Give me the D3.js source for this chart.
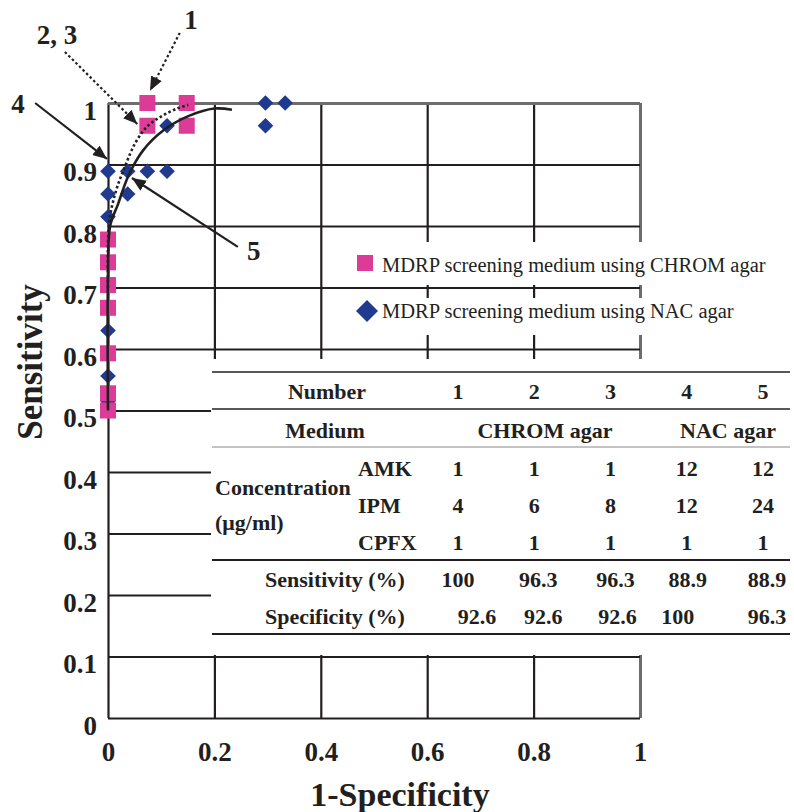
<!DOCTYPE html>
<html>
<head>
<meta charset="utf-8">
<script src="https://cdn.jsdelivr.net/npm/d3@7"></script>
<style>
  body { margin: 0; background: #fff; }
  svg { display: block; font-family: "Liberation Serif", "Times New Roman", serif; }
</style>
</head>
<body>
<svg id="canvas" width="794" height="812"></svg>
<script>
// CHROM agar (pink squares)
const chromX = [0.074, 0.074, 0.148, 0.148, 0, 0, 0, 0, 0, 0, 0];
const chromY = [1, 0.963, 1, 0.963, 0.778, 0.741, 0.704, 0.667, 0.593, 0.528, 0.5];
// NAC agar (blue diamonds)
const nacX = [0.296, 0.333, 0.296, 0.111, 0, 0.037, 0.074, 0.111, 0, 0.037, 0, 0, 0, 0];
const nacY = [1, 1, 0.963, 0.963, 0.889, 0.889, 0.889, 0.889, 0.852, 0.852, 0.815, 0.63, 0.556, 0.515];

// fitted curves
const solidCurve = [[0, 0.5], [0, 0.72], [0.004, 0.8], [0.019, 0.836], [0.039, 0.883], [0.066, 0.923],
  [0.105, 0.956], [0.152, 0.979], [0.2, 0.991], [0.233, 0.989]];
const dottedCurve = [[0, 0.7], [0.002, 0.805], [0.015, 0.857], [0.032, 0.897], [0.052, 0.936],
  [0.075, 0.963], [0.102, 0.979], [0.13, 0.991], [0.151, 0.997]];

const xTicks = [0, 0.2, 0.4, 0.6, 0.8, 1];
const yTicks = [0, 0.1, 0.2, 0.3, 0.4, 0.5, 0.6, 0.7, 0.8, 0.9, 1];

const legendLabels = ['MDRP screening medium using CHROM agar', 'MDRP screening medium using NAC agar'];

// table
const numbers = ['1', '2', '3', '4', '5'];
const amk = ['1', '1', '1', '12', '12'];
const ipm = ['4', '6', '8', '12', '24'];
const cpfx = ['1', '1', '1', '1', '1'];
const sensitivity = ['100', '96.3', '96.3', '88.9', '88.9'];
const specificity = ['92.6', '92.6', '92.6', '100', '96.3'];

// annotation arrows (data coords)
const arrows = [
  { label: '1', from: [0.135, 1.114], to: [0.079, 1.02], at: [0.156, 1.12], dotted: true },
  { label: '2, 3', from: [-0.081, 1.083], to: [0.055, 0.966], at: [-0.096, 1.096], dotted: true },
  { label: '4', from: [-0.137, 1.0], to: [-0.002, 0.909], at: [-0.169, 0.984], dotted: false },
  { label: '5', from: [0.244, 0.766], to: [0.045, 0.878], at: [0.274, 0.745], dotted: false }
];

const pink = '#dc3c97';
const blue = '#1f3a8e';
const ink = '#231f20';

const svg = d3.select('#canvas');
const x = d3.scaleLinear().domain([0, 1]).range([108, 640]);
const y = d3.scaleLinear().domain([0, 1]).range([718, 103]);

// grid + tick labels
const gx = svg.append('g').attr('transform', 'translate(0,718)')
  .call(d3.axisBottom(x).tickValues(xTicks).tickSize(-615).tickFormat(d3.format('')));
const gy = svg.append('g').attr('transform', 'translate(108,0)')
  .call(d3.axisLeft(y).tickValues(yTicks).tickSize(-532).tickFormat(d3.format('')));
[gx, gy].forEach(g => {
  g.select('.domain').remove();
  g.selectAll('line').attr('stroke', ink).attr('stroke-width', 2.2);
  g.selectAll('text').attr('fill', ink).attr('font-size', 27).attr('font-weight', 'bold')
    .attr('font-family', '"Liberation Serif", "Times New Roman", serif');
});
gx.selectAll('.tick').filter(d => d === 1).select('line').attr('stroke', '#6d6d6d').attr('stroke-width', 3);
gy.selectAll('.tick').filter(d => d === 1).select('line').attr('stroke', '#6d6d6d').attr('stroke-width', 3);
gx.selectAll('text').attr('y', 43).attr('dy', 0);
gy.selectAll('text').attr('x', -11).attr('dy', 16);

// axis titles
svg.append('text').attr('x', 400).attr('y', 806).attr('text-anchor', 'middle')
  .attr('font-size', 34).attr('font-weight', 'bold').attr('fill', ink).text('1-Specificity');
svg.append('text').attr('transform', 'translate(42,362) rotate(-90)').attr('text-anchor', 'middle')
  .attr('font-size', 35).attr('font-weight', 'bold').attr('fill', ink).text('Sensitivity');

// white boxes behind legend and table
svg.append('rect').attr('x', 345).attr('y', 242).attr('width', 449).attr('height', 43).attr('fill', '#fff');
svg.append('rect').attr('x', 345).attr('y', 298).attr('width', 449).attr('height', 37).attr('fill', '#fff');
svg.append('rect').attr('x', 211).attr('y', 359).attr('width', 583).attr('height', 296).attr('fill', '#fff');

// points
const diamond = (cx, cy, r) => `M${cx},${cy - r}L${cx + r},${cy}L${cx},${cy + r}L${cx - r},${cy}Z`;
svg.append('g').selectAll('path').data(nacX).enter().append('path')
  .attr('d', (d, i) => diamond(x(d), y(nacY[i]), 7.8))
  .attr('fill', blue);
svg.append('g').selectAll('rect').data(chromX).enter().append('rect')
  .attr('x', d => x(d) - 8).attr('y', (d, i) => y(chromY[i]) - 8)
  .attr('width', 16).attr('height', 16).attr('fill', pink);

// curves
const line = d3.line().x(d => x(d[0])).y(d => y(d[1])).curve(d3.curveCatmullRom);
svg.append('path').datum(solidCurve).attr('d', line).attr('fill', 'none')
  .attr('stroke', ink).attr('stroke-width', 2.6);
svg.append('path').datum(dottedCurve).attr('d', line).attr('fill', 'none')
  .attr('stroke', ink).attr('stroke-width', 2.6).attr('stroke-dasharray', '2.5,2.5');

// arrows
svg.append('defs').append('marker').attr('id', 'head')
  .attr('viewBox', '0 0 14 12').attr('markerWidth', 14).attr('markerHeight', 12)
  .attr('markerUnits', 'userSpaceOnUse').attr('refX', 14).attr('refY', 6).attr('orient', 'auto')
  .append('path').attr('d', 'M0,0L14,6L0,12Z').attr('fill', ink);
const ag = svg.append('g');
ag.selectAll('line').data(arrows).enter().append('line')
  .attr('x1', d => x(d.from[0])).attr('y1', d => y(d.from[1]))
  .attr('x2', d => x(d.to[0])).attr('y2', d => y(d.to[1]))
  .attr('stroke', ink).attr('stroke-width', 2.2)
  .attr('stroke-dasharray', d => d.dotted ? '2.5,2.5' : null)
  .attr('marker-end', 'url(#head)');
ag.selectAll('text').data(arrows).enter().append('text')
  .attr('x', d => x(d.at[0])).attr('y', d => y(d.at[1]))
  .attr('text-anchor', 'middle').attr('font-size', 27).attr('font-weight', 'bold')
  .attr('fill', ink).text(d => d.label);

// legend
const lg = svg.append('g').attr('font-size', 20.5).attr('fill', ink);
lg.append('rect').attr('x', 357).attr('y', 255).attr('width', 16).attr('height', 16).attr('fill', pink);
lg.append('path').attr('d', diamond(367, 311, 11)).attr('fill', blue);
lg.selectAll('text').data(legendLabels).enter().append('text')
  .attr('x', 382).attr('y', (d, i) => i === 0 ? 272 : 318).text(d => d);

// table
const tg = svg.append('g').attr('font-size', 22).attr('font-weight', 'bold').attr('fill', ink);
const col = d3.scalePoint().domain(numbers).range([458, 763]);
[[372, 1.5, ink], [409, 1.5, ink], [447, 1, '#888'], [560, 2.2, ink], [634, 2.2, ink]].forEach(r => {
  tg.append('line').attr('x1', 212).attr('x2', 790).attr('y1', r[0]).attr('y2', r[0])
    .attr('stroke', r[2]).attr('stroke-width', r[1]);
});
const rowText = (txt, xp, yp, anchor) => tg.append('text').attr('x', xp).attr('y', yp)
  .attr('text-anchor', anchor || 'middle').text(txt);
rowText('Number', 327, 399);
rowText('Medium', 325, 438);
rowText('CHROM agar', 545, 438);
rowText('NAC agar', 728, 438);
rowText('AMK', 358, 476, 'start');
rowText('IPM', 358, 513, 'start');
rowText('CPFX', 358, 550, 'start');
rowText('Concentration', 215, 495, 'start');
rowText('(\u03bcg/ml)', 215, 530, 'start');
rowText('Sensitivity (%)', 265, 587, 'start');
rowText('Specificity (%)', 265, 624, 'start');
const sensNudge = [0, 4, 5, 1, 4];
const specNudge = [19, 9, 7, -9, 4];
[[numbers, 399, null], [amk, 476, null], [ipm, 513, null], [cpfx, 550, null],
 [sensitivity, 587, sensNudge], [specificity, 624, specNudge]].forEach(r => {
  r[0].forEach((v, i) => rowText(v, col(numbers[i]) + (r[2] ? r[2][i] : 0), r[1]));
});
</script>
</body>
</html>
